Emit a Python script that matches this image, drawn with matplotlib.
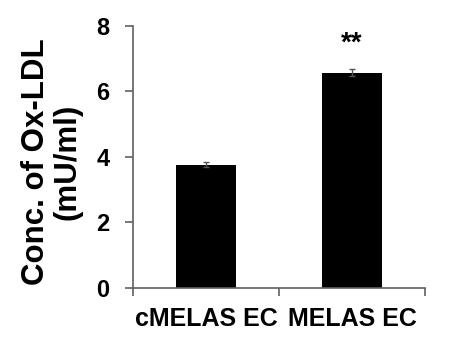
import numpy as np
import matplotlib.pyplot as plt

categories = ['cMELAS EC', 'MELAS EC']
values = [3.76, 6.57]
errors = [0.08, 0.10]
sig = ['', '**']

plt.rcParams['font.family'] = ['Liberation Sans', 'DejaVu Sans']
plt.rcParams['font.weight'] = 'bold'

fig = plt.figure(figsize=(4.64, 3.64), dpi=100)
ax = fig.add_axes([0.287, 0.209, 0.629, 0.72])

x = np.arange(len(categories)) + 0.5
ax.bar(x, values, width=0.41, color='black', yerr=errors,
       error_kw=dict(ecolor='#555555', elinewidth=1, capsize=2, capthick=1))
for xi, v, e, s in zip(x, values, errors, sig):
    if s:
        ax.text(xi, v + e + 0.4, s, ha='center', va='bottom', fontsize=20, fontweight='bold')

ax.set_xlim(0, 2)
ax.set_ylim(0, 8)
ax.set_yticks([0, 2, 4, 6, 8])
ax.set_xticks([0, 1, 2])
ax.set_xticklabels([])
ax.set_xticks(x, minor=True)
ax.set_xticklabels(categories, minor=True, fontsize=18, fontweight='bold')
ax.tick_params(axis='x', which='minor', length=0, pad=14)
ax.tick_params(axis='x', which='major', direction='out', length=6, width=1.2, color='#606060')
ax.tick_params(axis='y', direction='out', length=6, width=1.2, color='#606060', labelsize=17, pad=11)
for lab in ax.get_yticklabels():
    lab.set_fontweight('bold')

for sp in ['top', 'right']:
    ax.spines[sp].set_visible(False)
for sp in ['left', 'bottom']:
    ax.spines[sp].set_color('#606060')
    ax.spines[sp].set_linewidth(1.2)

fig.text(52 / 464, 1 - 162 / 364, 'Conc. of Ox-LDL\n(mU/ml)', rotation=90,
         ha='center', va='center', fontsize=22.5, fontweight='bold', linespacing=1.05)

fig.savefig('out.png', dpi=100)
